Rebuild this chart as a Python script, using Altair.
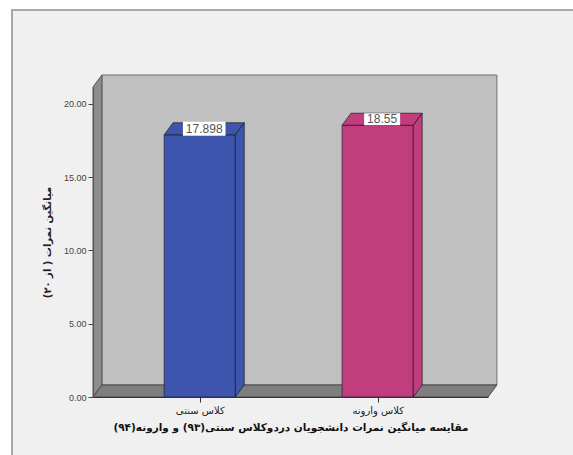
import json
import altair as alt
import pandas as pd

# ---------------- data ----------------
CATEGORIES = ["کلاس سنتی", "کلاس وارونه"]
MEANS = [17.898, 18.55]
MEAN_LABELS = ["17.898", "18.55"]
Y_TICKS = [0, 5, 10, 15, 20]
X_TITLE = "مقایسه میانگین نمرات دانشجویان دردوکلاس سنتی(۹۳) و وارونه(۹۴)"
Y_TITLE = "میانگین نمرات ( از ۲۰)"

# ---------------- style ----------------
W, H = 395, 310
X_DOM = [0.4, 2.62]
Y_DOM = [0, 21.16]
HALF = 0.2          # half bar width (x units)
DX = 0.05           # 3D depth along x (x units)
DY = 0.82           # 3D depth along y (y units)
FRONT = ["#3E55AD", "#C03D7E"]
TOP = ["#2E3F8E", "#7B2251"]
SIDE = ["#243071", "#8A2A5B"]
FA = "DejaVu Sans"
LA = "Liberation Sans"

POS = [i + 1 for i in range(len(CATEGORIES))]

XS = alt.Scale(domain=X_DOM, nice=False, zero=False)
YS = alt.Scale(domain=Y_DOM, nice=False, zero=False)

label_expr = "[" + ",".join(json.dumps(c, ensure_ascii=False) for c in CATEGORIES) + "][datum.value - 1]"

XAX = alt.Axis(values=POS, labelExpr=label_expr, title=X_TITLE, grid=False,
               domainColor="#333333", tickColor="#333333", tickSize=5,
               labelFont=FA, labelFontSize=10, labelColor="#222222", labelPadding=3,
               labelAngle=0,
               titleFont=FA, titleFontSize=10.5, titleFontWeight="bold",
               titleColor="#111111", titlePadding=7, zindex=1)
YAX = alt.Axis(values=Y_TICKS, format=".2f", title=Y_TITLE, grid=False,
               domainColor="#555555", tickColor="#444444", tickSize=5,
               labelFont=LA, labelFontSize=9, labelColor="#444444", labelPadding=2,
               titleFont=FA, titleFontSize=10, titleFontWeight="bold",
               titleColor="#222222", titlePadding=11, zindex=1)


def X(f="x"):
    return alt.X(f"{f}:Q", scale=XS, axis=XAX)


def Y(f="y"):
    return alt.Y(f"{f}:Q", scale=YS, axis=YAX)


one = pd.DataFrame({"a": [0]})

# outer frame
frame = alt.Chart(one).mark_rect(fill="#F0F0F0", stroke="#A8A8A8", strokeWidth=2).encode(
    x=alt.value(-81), y=alt.value(-77), x2=alt.value(W + 120), y2=alt.value(H + 120))

# back wall
wall_df = pd.DataFrame({"x": [X_DOM[0] + DX], "x2": [X_DOM[1] + DX],
                        "y": [Y_DOM[0] + DY], "y2": [Y_DOM[1] + DY]})
wall = alt.Chart(wall_df).mark_rect(fill="#C0C0C0", stroke="#6E6E6E", strokeWidth=1).encode(
    x=X(), x2="x2:Q", y=Y(), y2="y2:Q")

# left side wall
side_df = pd.DataFrame({"x": [X_DOM[0], X_DOM[0] + DX],
                        "y": [Y_DOM[0], Y_DOM[0] + DY],
                        "y2": [Y_DOM[1], Y_DOM[1] + DY]})
sidewall = alt.Chart(side_df).mark_area(orient="vertical", fill="#8C8C8C",
                                        stroke="#555555", strokeWidth=1).encode(
    x=X(), y=Y(), y2="y2:Q")

# floor
floor_df = pd.DataFrame({"y": [Y_DOM[0], Y_DOM[0] + DY],
                         "x": [X_DOM[0], X_DOM[0] + DX],
                         "x2": [X_DOM[1], X_DOM[1] + DX]})
floor = alt.Chart(floor_df).mark_area(orient="horizontal", fill="#7E7E7E",
                                      stroke="#4A4A4A", strokeWidth=1).encode(
    y=Y(), x=X(), x2="x2:Q")

# bar faces
front_df = pd.DataFrame({"cat": CATEGORIES,
                         "x": [p - HALF for p in POS], "x2": [p + HALF for p in POS],
                         "y": [0.0] * len(MEANS), "y2": MEANS})
front = alt.Chart(front_df).mark_rect(stroke="#1E1E3A", strokeWidth=0.7).encode(
    x=X(), x2="x2:Q", y=Y(), y2="y2:Q",
    color=alt.Color("cat:N", scale=alt.Scale(domain=CATEGORIES, range=FRONT), legend=None))

top_rows = []
side_rows = []
for c, p, v in zip(CATEGORIES, POS, MEANS):
    top_rows.append({"cat": c, "y": v, "x": p - HALF, "x2": p + HALF})
    top_rows.append({"cat": c, "y": v + DY, "x": p - HALF + DX, "x2": p + HALF + DX})
    side_rows.append({"cat": c, "x": p + HALF, "y": 0.0, "y2": v})
    side_rows.append({"cat": c, "x": p + HALF + DX, "y": DY, "y2": v + DY})

top = alt.Chart(pd.DataFrame(top_rows)).mark_area(orient="horizontal", stroke="#1A1A1A",
                                                  strokeWidth=0.7).encode(
    y=Y(), x=X(), x2="x2:Q", detail="cat:N",
    color=alt.Color("cat:N", scale=alt.Scale(domain=CATEGORIES, range=TOP), legend=None))

side = alt.Chart(pd.DataFrame(side_rows)).mark_area(orient="vertical", stroke="#1A1A1A",
                                                    strokeWidth=0.7).encode(
    x=X(), y=Y(), y2="y2:Q", detail="cat:N",
    color=alt.Color("cat:N", scale=alt.Scale(domain=CATEGORIES, range=SIDE), legend=None))

# value labels with white box
lab_df = pd.DataFrame({"cat": CATEGORIES, "x": [p + DX / 2 for p in POS],
                       "y": [v + DY / 2 for v in MEANS], "txt": MEAN_LABELS,
                       "box": [(6.6 * len(t) + 3) ** 2 for t in MEAN_LABELS]})
box = alt.Chart(lab_df).mark_point(shape="M-1,-0.33L1,-0.33L1,0.33L-1,0.33Z",
                                   filled=True, fill="white", opacity=1, strokeWidth=0).encode(
    x=X(), y=Y(), size=alt.Size("box:Q", scale=None, legend=None))
txt = alt.Chart(lab_df).mark_text(font=LA, fontSize=12, color="#555555",
                                  align="center", baseline="middle").encode(
    x=X(), y=Y(), text="txt:N")

chart = alt.layer(frame, wall, sidewall, floor, front, top, side, box, txt).properties(
    width=W, height=H,
    padding={"left": 93, "top": 87, "right": 85, "bottom": 58},
    autosize=alt.AutoSizeParams(type="none"),
    background="white",
).configure_view(stroke=None)

chart.save("out.html", embed_options={"renderer": "svg", "actions": False})
